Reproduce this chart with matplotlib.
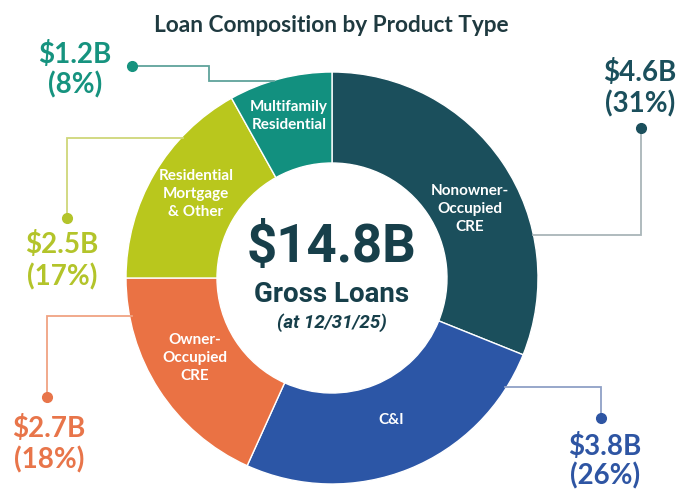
import matplotlib
matplotlib.use("Agg")
import matplotlib.pyplot as plt
import numpy as np

# ---- data ----
categories = ["Nonowner-\nOccupied\nCRE", "C&I", "Owner-\nOccupied\nCRE",
              "Residential\nMortgage\n& Other", "Multifamily\nResidential"]
values_b = [4.6, 3.8, 2.7, 2.5, 1.2]
pct_labels = ["31%", "26%", "18%", "17%", "8%"]
value_labels = ["$4.6B", "$3.8B", "$2.7B", "$2.5B", "$1.2B"]
total_label = "$14.8B"
colors = ["#1b4f5c", "#2c56a6", "#ea7244", "#b9c71d", "#12907f"]
text_colors = ["#1b4f5c", "#2e55a3", "#e8754a", "#b3c42a", "#16937f"]
line_colors = ["#a9b5b9", "#8fa0c6", "#f0a282", "#cfd77a", "#5fa39b"]

W, H = 681, 493
fig = plt.figure(figsize=(W / 100, H / 100), dpi=100)
ax = fig.add_axes([0, 0, 1, 1])

def Y(y):
    return H - y

cx, cy = 332, 278
R, r_in = 206, 115

ax.pie(values_b, colors=colors, startangle=90, counterclock=False,
       center=(cx, Y(cy)), radius=R,
       wedgeprops=dict(width=R - r_in, edgecolor="white", linewidth=1.0))
ax.set_xlim(0, W)
ax.set_ylim(0, H)
ax.set_aspect("equal")
ax.axis("off")

sans = ["Lato", "DejaVu Sans"]
rob = ["Roboto", "DejaVu Sans"]

# Title
ax.text(331, Y(26), "Loan Composition by Product Type", ha="center", va="center",
        fontsize=16.3, fontweight="bold", color="#1f3a40", family=sans)

# Center text
ax.text(332, Y(247), total_label, ha="center", va="center", fontsize=38,
        fontweight="bold", color="#173f4a", family=rob)
ax.text(332, Y(295), "Gross Loans", ha="center", va="center", fontsize=20,
        fontweight="bold", color="#173f4a", family=rob)
ax.text(332, Y(323), "(at 12/31/25)", ha="center", va="center", fontsize=13.5,
        fontweight="bold", style="italic", color="#173f4a", family=rob)

# Slice labels
slice_pos = [(470, 209), (391, 420), (195, 358), (196, 194), (289, 116)]
for lab, (x, y) in zip(categories, slice_pos):
    ax.text(x, Y(y), lab, ha="center", va="center", fontsize=11,
            fontweight="bold", color="white", family=sans, linespacing=1.4)

def edge_x(y, side):
    dy = y - cy
    return cx + side * np.sqrt(R ** 2 - dy ** 2)

# Callouts: (text center x, value y, pct y, polyline points in px)
callouts = [
    (640, 73, 104, [(641, 128), (641, 235), (edge_x(235, 1), 235)]),
    (605, 446, 476, [(601, 418), (601, 387), (edge_x(387, 1) - 2, 387)]),
    (49, 428, 460, [(47, 397), (47, 316), (edge_x(316, -1) + 2, 316)]),
    (62, 245, 277, [(67, 218), (67, 138), (edge_x(138, -1) + 2, 138)]),
    (75, 54, 85, [(132, 66), (209, 66), (209, 81), (edge_x(81, -1) + 2, 81)]),
]
for i, (tx, vy, py, pts) in enumerate(callouts):
    xs = [p[0] for p in pts]
    ys = [Y(p[1]) for p in pts]
    ax.plot(xs, ys, color=line_colors[i], lw=1.3, solid_joinstyle="miter", zorder=1)
    ax.plot(xs[0], ys[0], "o", ms=7, color=text_colors[i], zorder=3)
    ax.text(tx, Y(vy), value_labels[i], ha="center", va="center", fontsize=20,
            fontweight="bold", color=text_colors[i], family=sans)
    ax.text(tx, Y(py), "(" + pct_labels[i] + ")", ha="center", va="center",
            fontsize=20, fontweight="bold", color=text_colors[i], family=sans)

fig.savefig("out.png", dpi=100, facecolor="white")
